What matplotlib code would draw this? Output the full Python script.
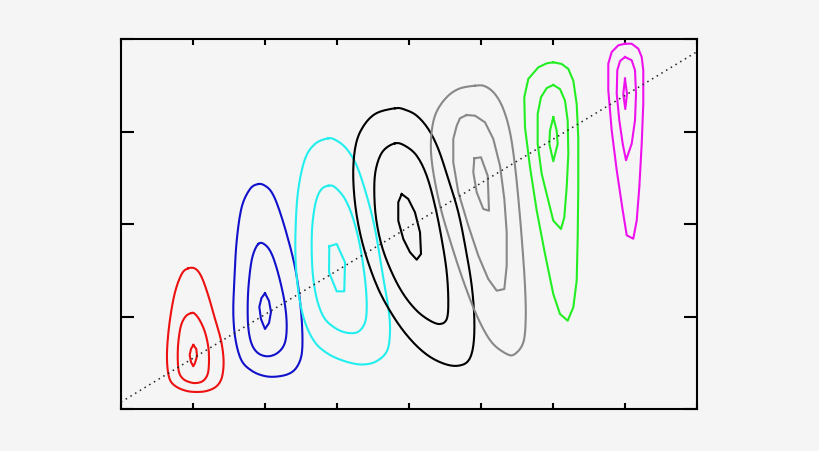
import matplotlib
matplotlib.use("Agg")
import matplotlib.pyplot as plt
import numpy as np

# ---- data (traced contour vertices, data units) ----
RED_OUTER = [(0.935,1.521),(1.037,1.514),(1.121,1.424),(1.213,1.225),(1.306,0.973),(1.385,0.757),
             (1.421,0.576),(1.421,0.432),(1.389,0.314),(1.315,0.238),(1.190,0.195),(1.051,0.184),
             (0.913,0.195),(0.774,0.238),(0.681,0.314),(0.643,0.468),(0.643,0.684),(0.681,0.973),
             (0.750,1.262),(0.843,1.459)]
RED_MID = [(0.982,1.038),(1.028,1.027),(1.097,0.955),(1.167,0.829),(1.213,0.667),(1.222,0.505),
           (1.204,0.378),(1.143,0.306),(1.051,0.281),(0.958,0.289),(0.865,0.324),(0.806,0.397),
           (0.788,0.541),(0.796,0.721),(0.833,0.901),(0.899,1.002)]
RED_IN = [(1.004,0.692),(1.046,0.649),(1.056,0.573),(1.028,0.497),(1.004,0.462),(0.972,0.508),
          (0.954,0.584),(0.972,0.649)]

BLUE_OUTER = [(1.907,2.432),(2.000,2.414),(2.093,2.343),(2.185,2.181),(2.301,1.892),(2.417,1.532),
              (2.486,1.171),(2.518,0.846),(2.510,0.595),(2.440,0.451),(2.324,0.378),(2.139,0.349),
              (1.976,0.360),(1.815,0.414),(1.676,0.522),(1.593,0.738),(1.560,1.027),(1.574,1.387),
              (1.607,1.819),(1.676,2.181),(1.792,2.378)]
BLUE_MID = [(1.907,1.784),(2.000,1.776),(2.093,1.676),(2.185,1.459),(2.268,1.171),(2.301,0.919),
            (2.278,0.721),(2.185,0.613),(2.046,0.570),(1.907,0.602),(1.815,0.703),(1.768,0.883),
            (1.760,1.135),(1.778,1.387),(1.824,1.640)]
BLUE_IN = [(2.000,1.251),(2.056,1.168),(2.083,1.049),(2.056,0.930),(2.000,0.865),(1.944,0.973),
           (1.921,1.103),(1.951,1.200)]

CYAN_OUTER = [(2.879,2.926),(2.996,2.901),(3.135,2.811),(3.274,2.630),(3.413,2.306),(3.528,1.946),
              (3.621,1.514),(3.715,1.081),(3.736,0.832),(3.694,0.627),(3.542,0.514),(3.343,0.481),
              (3.111,0.516),(2.879,0.595),(2.694,0.721),(2.556,0.937),(2.472,1.225),(2.426,1.586),
              (2.426,1.982),(2.463,2.378),(2.556,2.703),(2.694,2.865)]
CYAN_MID = [(2.879,2.414),(2.972,2.397),(3.111,2.270),(3.226,2.054),(3.319,1.765),(3.389,1.405),
            (3.413,1.117),(3.389,0.937),(3.296,0.836),(3.157,0.822),(2.996,0.865),(2.833,0.973),
            (2.732,1.154),(2.671,1.405),(2.649,1.694),(2.657,1.982),(2.704,2.235),(2.778,2.370)]
CYAN_IN = [(2.893,1.759),(2.996,1.784),(3.111,1.586),(3.101,1.272),(2.996,1.272),(2.889,1.478)]

BLACK_OUTER = [(3.806,3.251),(3.944,3.236),(4.107,3.171),(4.268,3.027),(4.407,2.811),(4.546,2.486),
               (4.685,2.126),(4.788,1.730),(4.871,1.333),(4.907,0.973),(4.893,0.684),(4.824,0.522),
               (4.685,0.468),(4.500,0.486),(4.268,0.576),(4.037,0.738),(3.806,0.973),(3.574,1.297),
               (3.389,1.694),(3.274,2.090),(3.226,2.486),(3.250,2.811),(3.343,3.027),(3.528,3.189)]
BLACK_MID = [(3.806,2.872),(3.944,2.846),(4.107,2.738),(4.246,2.522),(4.361,2.198),(4.454,1.838),
             (4.524,1.478),(4.546,1.154),(4.524,0.973),(4.431,0.919),(4.292,0.955),(4.107,1.063),
             (3.921,1.243),(3.760,1.478),(3.621,1.765),(3.538,2.090),(3.518,2.414),(3.551,2.630),
             (3.643,2.792)]
BLACK_IN = [(3.899,2.324),(3.990,2.270),(4.083,2.126),(4.153,1.910),(4.167,1.676),(4.107,1.614),
            (4.014,1.694),(3.921,1.838),(3.851,2.036),(3.851,2.235)]

GRAY_OUTER = [(4.917,3.495),(5.056,3.489),(5.194,3.405),(5.310,3.243),(5.403,2.991),(5.472,2.630),
              (5.528,2.198),(5.574,1.765),(5.611,1.333),(5.621,0.973),(5.588,0.721),(5.472,0.595),
              (5.357,0.595),(5.149,0.721),(4.963,0.973),(4.778,1.333),(4.593,1.765),(4.431,2.198),
              (4.324,2.630),(4.306,2.919),(4.361,3.171),(4.500,3.351),(4.685,3.459)]
GRAY_MID = [(4.801,3.178),(4.917,3.171),(5.056,3.099),(5.171,2.919),(5.264,2.630),(5.324,2.270),
            (5.357,1.910),(5.357,1.549),(5.324,1.297),(5.218,1.279),(5.101,1.405),(4.963,1.657),
            (4.824,1.982),(4.685,2.343),(4.615,2.667),(4.615,2.919),(4.663,3.063),(4.708,3.143)]
GRAY_IN = [(4.907,2.710),(5.000,2.721),(5.093,2.522),(5.111,2.144),(5.032,2.162),(4.940,2.343),
           (4.893,2.559)]

GREEN_OUTER = [(6.004,3.748),(6.121,3.730),(6.213,3.676),(6.282,3.549),(6.329,3.297),(6.351,2.937),
               (6.351,2.397),(6.343,1.856),(6.329,1.387),(6.282,1.099),(6.204,0.955),(6.097,1.027),
               (6.004,1.243),(5.889,1.676),(5.774,2.144),(5.681,2.613),(5.611,3.045),(5.601,3.370),
               (5.657,3.568),(5.796,3.694),(5.913,3.737)]
GREEN_MID = [(6.004,3.503),(6.097,3.459),(6.167,3.333),(6.204,3.117),(6.213,2.757),(6.190,2.397),
             (6.157,2.072),(6.111,1.946),(6.004,2.036),(5.935,2.252),(5.843,2.541),(5.787,2.865),
             (5.787,3.189),(5.833,3.370),(5.913,3.470)]
GREEN_IN = [(6.004,3.154),(6.051,3.009),(6.065,2.865),(6.004,2.678),(5.949,2.865),(5.958,3.009)]

MAGENTA_OUTER = [(7.000,3.949),(7.093,3.949),(7.185,3.895),(7.232,3.805),(7.254,3.662),(7.254,3.301),
                 (7.232,2.868),(7.199,2.400),(7.163,2.040),(7.115,1.841),(7.024,1.878),(6.968,2.148),
                 (6.885,2.581),(6.815,3.013),(6.768,3.445),(6.768,3.733),(6.815,3.859),(6.907,3.932)]
MAGENTA_MID = [(7.000,3.805),(7.093,3.770),(7.139,3.662),(7.153,3.409),(7.139,3.121),(7.093,2.868),
               (7.014,2.689),(6.968,2.868),(6.921,3.121),(6.885,3.409),(6.893,3.662),(6.931,3.762)]
MAGENTA_IN = [(7.000,3.571),(7.028,3.405),(7.004,3.243),(6.976,3.405)]

GROUP_COLORS = ["#ee1111", "#1111cc", "#22eeee", "#000000", "#888888", "#22ee22", "#ee11ee"]
GROUPS = [
    [RED_OUTER, RED_MID, RED_IN],
    [BLUE_OUTER, BLUE_MID, BLUE_IN],
    [CYAN_OUTER, CYAN_MID, CYAN_IN],
    [BLACK_OUTER, BLACK_MID, BLACK_IN],
    [GRAY_OUTER, GRAY_MID, GRAY_IN],
    [GREEN_OUTER, GREEN_MID, GREEN_IN],
    [MAGENTA_OUTER, MAGENTA_MID, MAGENTA_IN],
]
# how many of each group's contours (outer first) are drawn smoothed
SMOOTH_COUNT = [2, 2, 2, 2, 1, 0, 0]

LINE_X = [0.0, 8.0]
LINE_Y = [0.075, 3.863]

X_TICKS = [0, 1, 2, 3, 4, 5, 6, 7, 8]
Y_TICKS = [0, 1, 2, 3, 4]


def closed_catmull_rom(pts, n=8):
    """Smooth closed path through the traced vertices (rendering only)."""
    p = np.asarray(pts, dtype=float)
    m = len(p)
    out = []
    for i in range(m):
        p0, p1, p2, p3 = p[(i - 1) % m], p[i], p[(i + 1) % m], p[(i + 2) % m]
        for t in np.linspace(0, 1, n, endpoint=False):
            t2, t3 = t * t, t * t * t
            out.append(0.5 * ((2 * p1) + (-p0 + p2) * t + (2 * p0 - 5 * p1 + 4 * p2 - p3) * t2
                              + (-p0 + 3 * p1 - 3 * p2 + p3) * t3))
    out.append(out[0])
    return np.array(out)


# ---- plot ----
BG = "#f5f5f5"
fig = plt.figure(figsize=(8.2, 4.52), dpi=100, facecolor=BG)
ax = fig.add_axes([121/820, 1-410/452, 576/820, 370/452], facecolor=BG)

ax.plot(LINE_X, LINE_Y, color="#222222", lw=1.1, linestyle=(0, (1, 2.6)), zorder=3)

for color, contours, ns in zip(GROUP_COLORS, GROUPS, SMOOTH_COUNT):
    for k, pts in enumerate(contours):
        if k < ns:
            arr = closed_catmull_rom(pts)
        else:
            arr = np.array(pts + [pts[0]])
        ax.plot(arr[:, 0], arr[:, 1], color=color, lw=1.5, solid_joinstyle="round", zorder=2)

ax.set_xlim(0, 8)
ax.set_ylim(0, 4)
ax.set_xticks(X_TICKS)
ax.set_yticks(Y_TICKS)
ax.set_xticklabels([])
ax.set_yticklabels([])
ax.tick_params(axis="x", direction="in", length=4.5, width=1.5, top=True, bottom=True, color="black")
ax.tick_params(axis="y", direction="in", length=9.5, width=1.5, left=True, right=True, color="black")
for s in ax.spines.values():
    s.set_linewidth(1.5)
    s.set_color("black")

fig.savefig("out.png", dpi=100, facecolor=BG)
